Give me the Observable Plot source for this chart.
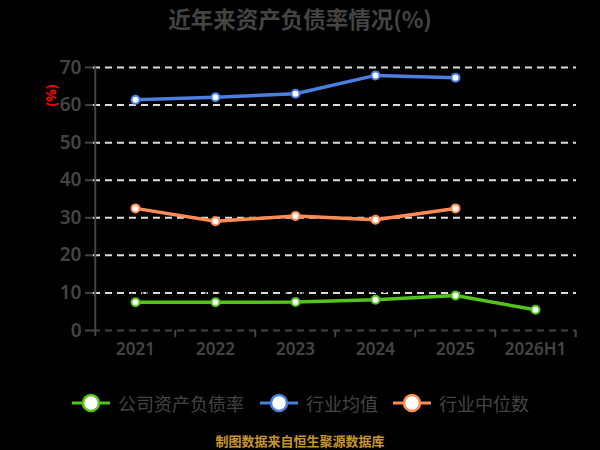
<!DOCTYPE html>
<html>
<head>
<meta charset="utf-8">
<script src="https://cdn.jsdelivr.net/npm/d3@7"></script>
<script src="https://cdn.jsdelivr.net/npm/@observablehq/plot@0.6"></script>
<style>
  html, body { margin: 0; padding: 0; background: #000; }
  #wrap { position: relative; width: 600px; height: 450px; background: #000; font-family: "Noto Sans", "Noto Sans CJK SC", sans-serif; overflow: hidden; }
  #title { position: absolute; left: 0; top: 2px; width: 600px; text-align: center; font-size: 22.5px; font-weight: bold; color: #444; font-family: "Noto Sans CJK SC", sans-serif; line-height: 32px; }
  #chart { position: absolute; left: 0; top: 36px; }
  #legend { position: absolute; left: 0; top: 389px; width: 600px; height: 28px; }
  #caption { position: absolute; left: 0; top: 431px; width: 600px; text-align: center; font-size: 13px; font-weight: bold; color: #c8962a; font-family: "Noto Sans CJK SC", sans-serif; }
  .lg { position: absolute; top: 0; display: flex; align-items: center; height: 28px; font-size: 18px; color: #444; font-family: "Noto Sans CJK SC", sans-serif; }
</style>
</head>
<body>
<div id="wrap">
  <div id="title"></div>
  <div id="chart"></div>
  <div id="legend"></div>
  <div id="caption"></div>
</div>
<script>
const titleText = "近年来资产负债率情况(%)";
const captionText = "制图数据来自恒生聚源数据库";
const yLabel = "(%)";
const categories = ["2021", "2022", "2023", "2024", "2025", "2026H1"];
const seriesNames = ["公司资产负债率", "行业均值", "行业中位数"];
const seriesColors = ["#52c41a", "#4a7fe0", "#ff8c55"];
const companyValues = [7.5, 7.5, 7.6, 8.2, 9.3, 5.5];
const industryMean = [61.4, 62.1, 63.0, 67.9, 67.3];
const industryMedian = [32.5, 29.1, 30.5, 29.5, 32.5];
const yTicks = [0, 10, 20, 30, 40, 50, 60, 70];

document.getElementById("title").textContent = titleText;
document.getElementById("caption").textContent = captionText;

const rows = [];
[companyValues, industryMean, industryMedian].forEach((vals, si) => {
  vals.forEach((v, i) => rows.push({series: seriesNames[si], cat: categories[i], value: v}));
});
const companyRows = rows.filter(d => d.series === seriesNames[0]);

const W = 600, H = 334, ML = 93, MR = 24, MT = 31, MB = 40;
const bw = (W - ML - MR) / categories.length;
const axisColor = "#444";

const plot = Plot.plot({
  width: W, height: H,
  marginLeft: ML, marginRight: MR, marginTop: MT, marginBottom: MB,
  style: {background: "#000", fontFamily: "Noto Sans, sans-serif", overflow: "visible"},
  x: {type: "band", domain: categories, padding: 0, label: null},
  y: {domain: [0, 70], label: null},
  color: {domain: seriesNames, range: seriesColors},
  marks: [
    Plot.ruleY(yTicks.slice(1), {stroke: "#ddd", strokeWidth: 2, strokeDasharray: "7,5"}),
    Plot.ruleY([0], {stroke: axisColor, strokeWidth: 2, strokeDasharray: "7,5"}),
    Plot.axisY(yTicks, {tickSize: 8, tickPadding: 4, fontSize: 19, fontWeight: 600, color: axisColor, stroke: axisColor, strokeWidth: 2, label: null, tickFormat: d => d}),
    Plot.ruleX([0], {x: () => categories[0], dx: -bw / 2, y1: 70, y2: 0, stroke: axisColor, strokeWidth: 2, insetBottom: -6}),
    Plot.ruleX(categories.slice(1), {dx: -bw / 2, y1: 0, y2: 0, insetBottom: -7, stroke: axisColor, strokeWidth: 2}),
    Plot.ruleX([categories[categories.length - 1]], {dx: bw / 2, y1: 0, y2: 0, insetBottom: -7, stroke: axisColor, strokeWidth: 2}),
    Plot.axisX({tickSize: 0, tickPadding: 12, fontSize: 17, fontWeight: 600, color: axisColor, label: null}),
    Plot.line(rows, {x: "cat", y: "value", z: "series", stroke: "series", strokeWidth: 3.5}),
    Plot.dot(rows, {x: "cat", y: "value", stroke: "series", fill: "#fff", r: 4, strokeWidth: 2}),
    Plot.text(companyRows, {x: "cat", y: "value", text: d => d.value.toFixed(2), dy: -11, fill: "#000", fontSize: 13}),
    Plot.text([yLabel], {frameAnchor: "top-left", dx: -47, dy: 39, rotate: -90, fill: "red", fontSize: 14, fontWeight: "bold"})
  ]
});
document.getElementById("chart").appendChild(plot);

const legendPos = [72, 260, 393];
const legend = document.getElementById("legend");
seriesNames.forEach((name, i) => {
  const item = document.createElement("div");
  item.className = "lg";
  item.style.left = legendPos[i] + "px";
  item.innerHTML = `<svg width="40" height="28" style="margin-right:6px"><line x1="0" x2="38" y1="14" y2="14" stroke="${seriesColors[i]}" stroke-width="3"/><circle cx="19" cy="14" r="8" fill="#fff" stroke="${seriesColors[i]}" stroke-width="2.5"/></svg><span>${name}</span>`;
  legend.appendChild(item);
});
</script>
</body>
</html>
